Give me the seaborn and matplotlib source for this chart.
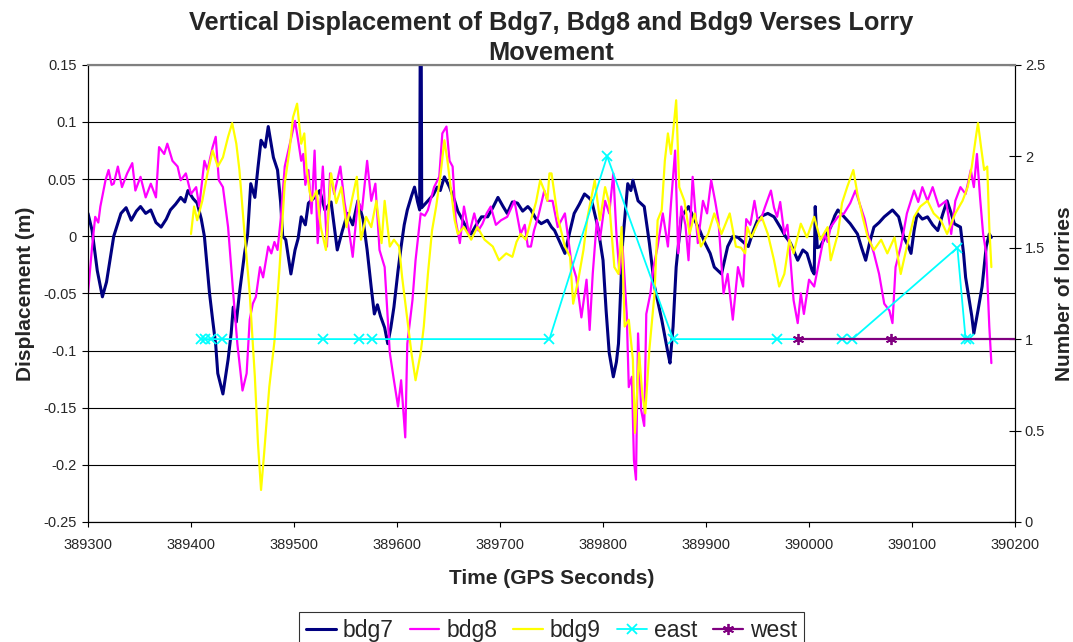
import matplotlib
matplotlib.use("Agg")
import matplotlib.pyplot as plt
import numpy as np
import pandas as pd
import seaborn as sns
from matplotlib.ticker import FuncFormatter, MultipleLocator

# bdg7 displacement (m) vs GPS time
bdg7_t = [389300, 389304, 389309, 389314, 389318, 389325, 389332, 389337, 389342, 389347,
          389351, 389356, 389361, 389366, 389371, 389376, 389380, 389385, 389390, 389394,
          389397, 389402, 389406, 389410, 389413, 389418, 389421, 389424, 389426, 389431,
          389436, 389439, 389441, 389444, 389447, 389452, 389455, 389458, 389462, 389465,
          389468, 389472, 389475, 389480, 389484, 389487, 389489, 389492, 389497, 389501,
          389504, 389507, 389511, 389514, 389520, 389525, 389530, 389536, 389542, 389547,
          389552, 389557, 389562, 389567, 389571, 389575, 389578, 389581, 389584, 389588,
          389591, 389594, 389597, 389601, 389604, 389607, 389610, 389614, 389617, 389620,
          389622, 389623, 389624, 389627, 389630, 389635, 389639, 389642, 389646, 389651,
          389656, 389659, 389662, 389667, 389672, 389677, 389682, 389688, 389693, 389698,
          389703, 389707, 389712, 389717, 389722, 389727, 389730, 389735, 389740, 389746,
          389750, 389753, 389758, 389763, 389768, 389772, 389777, 389782, 389786, 389789,
          389795, 389800, 389803, 389806, 389810, 389813, 389815, 389819, 389824, 389827,
          389829, 389832, 389834, 389840, 389845, 389850, 389857, 389863, 389865, 389868,
          389871, 389876, 389883, 389889, 389894, 389899, 389904, 389908, 389915, 389921,
          389926, 389931, 389936, 389941, 389946, 389950, 389955, 389960, 389966, 389972,
          389977, 389982, 389989, 389994, 389998, 390003, 390005, 390006, 390008, 390011,
          390016, 390021, 390025, 390028, 390034, 390040, 390047, 390051, 390055, 390059,
          390063, 390068, 390073, 390077, 390081, 390087, 390092, 390096, 390099, 390102,
          390105, 390110, 390115, 390120, 390125, 390130, 390134, 390138, 390141, 390147,
          390150, 390152, 390155, 390158, 390160, 390164, 390168, 390172, 390175, 390177]
bdg7_v = [0.020, 0.005, -0.030, -0.053, -0.040, 0.000, 0.020, 0.025, 0.014, 0.022,
          0.026, 0.020, 0.023, 0.012, 0.008, 0.015, 0.023, 0.028, 0.034, 0.030,
          0.040, 0.033, 0.029, 0.015, 0.000, -0.050, -0.073, -0.095, -0.120, -0.138,
          -0.108, -0.085, -0.062, -0.075, -0.050, -0.015, 0.002, 0.046, 0.034, 0.060,
          0.084, 0.078, 0.096, 0.069, 0.058, 0.030, 0.000, -0.003, -0.033, -0.012,
          -0.002, 0.017, 0.010, 0.029, 0.034, 0.040, 0.023, 0.030, -0.012, 0.005,
          0.020, 0.010, 0.031, 0.015, -0.012, -0.045, -0.068, -0.060, -0.070, -0.080,
          -0.094, -0.080, -0.062, -0.030, -0.009, 0.010, 0.023, 0.035, 0.043, 0.030,
          0.023, 0.300, 0.025, 0.028, 0.031, 0.036, 0.043, 0.040, 0.052, 0.043,
          0.031, 0.022, 0.017, 0.008, 0.002, 0.010, 0.017, 0.017, 0.025, 0.034,
          0.026, 0.020, 0.030, 0.029, 0.022, 0.026, 0.023, 0.015, 0.011, 0.014,
          0.008, 0.005, -0.005, -0.015, 0.005, 0.020, 0.028, 0.037, 0.034, 0.031,
          0.008, -0.021, -0.065, -0.102, -0.123, -0.110, -0.094, -0.006, 0.046, 0.040,
          0.049, 0.038, 0.031, 0.026, -0.006, -0.044, -0.073, -0.102, -0.111, -0.079,
          -0.027, 0.017, 0.026, 0.014, 0.005, -0.006, -0.015, -0.027, -0.033, -0.009,
          0.000, -0.001, -0.005, -0.009, 0.005, 0.014, 0.018, 0.020, 0.017, 0.008,
          0.000, -0.006, -0.021, -0.012, -0.015, -0.030, -0.033, 0.026, -0.010, -0.009,
          0.000, 0.008, 0.018, 0.023, 0.017, 0.011, 0.002, -0.010, -0.021, -0.005,
          0.008, 0.012, 0.017, 0.020, 0.023, 0.017, -0.001, -0.008, -0.015, 0.005,
          0.020, 0.015, 0.017, 0.010, 0.005, 0.020, 0.031, 0.020, 0.011, 0.008,
          -0.015, -0.036, -0.053, -0.070, -0.085, -0.065, -0.044, -0.009, 0.002, -0.001]

# bdg8 displacement (m)
bdg8_t = [389300, 389302, 389304, 389307, 389310, 389312, 389317, 389320, 389323, 389325,
          389329, 389333, 389338, 389343, 389346, 389351, 389356, 389361, 389366, 389369,
          389374, 389377, 389382, 389387, 389390, 389395, 389400, 389405, 389408, 389413,
          389416, 389421, 389424, 389427, 389431, 389436, 389441, 389445, 389450, 389454,
          389457, 389460, 389463, 389467, 389470, 389475, 389478, 389481, 389484, 389487,
          389491, 389496, 389501, 389504, 389507, 389509, 389511, 389514, 389517, 389520,
          389523, 389528, 389532, 389535, 389539, 389545, 389549, 389552, 389557, 389562,
          389566, 389571, 389575, 389579, 389583, 389588, 389593, 389597, 389601, 389604,
          389608, 389610, 389615, 389618, 389623, 389627, 389630, 389636, 389641, 389644,
          389648, 389651, 389654, 389657, 389661, 389665, 389670, 389675, 389679, 389683,
          389687, 389691, 389696, 389701, 389707, 389714, 389720, 389724, 389727, 389730,
          389733, 389737, 389743, 389746, 389751, 389756, 389763, 389769, 389774, 389779,
          389784, 389787, 389790, 389794, 389797, 389802, 389806, 389810, 389813, 389816,
          389819, 389823, 389825, 389828, 389830, 389832, 389834, 389837, 389840, 389842,
          389846, 389849, 389853, 389858, 389863, 389866, 389870, 389873, 389876, 389880,
          389883, 389887, 389892, 389897, 389901, 389905, 389909, 389912, 389917, 389921,
          389926, 389931, 389936, 389939, 389943, 389947, 389950, 389953, 389957, 389963,
          389966, 389969, 389972, 389976, 389979, 389982, 389985, 389989, 389992, 389995,
          390000, 390005, 390010, 390015, 390018, 390021, 390028, 390034, 390040, 390045,
          390050, 390054, 390057, 390063, 390068, 390073, 390078, 390081, 390084, 390089,
          390092, 390095, 390102, 390106, 390110, 390115, 390120, 390126, 390133, 390138,
          390142, 390147, 390152, 390157, 390160, 390163, 390166, 390169, 390172, 390175,
          390177]
bdg8_v = [-0.050, -0.030, -0.009, 0.017, 0.012, 0.026, 0.049, 0.058, 0.045, 0.046,
          0.061, 0.043, 0.055, 0.064, 0.040, 0.052, 0.034, 0.046, 0.034, 0.078,
          0.072, 0.081, 0.066, 0.061, 0.049, 0.055, 0.037, 0.043, 0.026, 0.066,
          0.058, 0.078, 0.087, 0.049, 0.043, 0.008, -0.050, -0.094, -0.135, -0.120,
          -0.073, -0.059, -0.053, -0.027, -0.036, -0.009, -0.015, -0.005, -0.012, 0.014,
          0.061, 0.081, 0.101, 0.084, 0.066, 0.072, 0.045, 0.058, 0.020, 0.075,
          -0.006, 0.061, -0.009, 0.055, 0.037, 0.061, 0.030, 0.014, -0.018, 0.031,
          0.023, 0.066, 0.031, 0.046, -0.012, -0.027, -0.102, -0.126, -0.149, -0.126,
          -0.176, -0.094, -0.056, -0.021, 0.020, 0.018, 0.023, 0.043, 0.052, 0.090,
          0.096, 0.066, 0.061, 0.014, -0.006, 0.026, 0.002, 0.020, 0.005, 0.011,
          0.020, 0.026, 0.010, 0.014, 0.017, 0.031, 0.002, 0.010, -0.009, -0.009,
          0.005, 0.017, 0.040, 0.031, 0.031, 0.008, 0.020, -0.021, -0.036, -0.071,
          -0.038, -0.082, -0.033, 0.014, -0.003, 0.031, 0.020, 0.055, 0.002, -0.033,
          -0.009, -0.068, -0.132, -0.123, -0.196, -0.213, -0.085, -0.152, -0.166, -0.068,
          -0.050, -0.027, -0.009, 0.020, -0.009, 0.029, 0.075, -0.015, 0.026, 0.010,
          -0.021, 0.052, -0.006, 0.031, 0.020, 0.049, 0.030, 0.014, -0.050, -0.033,
          -0.073, -0.027, -0.044, 0.015, 0.010, 0.031, 0.015, 0.014, 0.025, 0.040,
          0.025, 0.017, 0.030, 0.002, 0.010, -0.021, -0.056, -0.076, -0.050, -0.068,
          -0.038, -0.044, -0.021, 0.002, -0.005, 0.008, 0.017, 0.020, 0.029, 0.040,
          0.026, 0.015, 0.002, -0.015, -0.033, -0.059, -0.065, -0.076, -0.027, -0.009,
          0.005, 0.020, 0.040, 0.030, 0.043, 0.031, 0.043, 0.026, 0.031, 0.002,
          0.031, 0.043, 0.037, 0.058, 0.043, 0.072, 0.034, 0.002, -0.015, -0.079,
          -0.111]

# bdg9 displacement (m)
bdg9_t = [389400, 389403, 389406, 389411, 389416, 389421, 389426, 389431, 389436, 389440,
          389444, 389447, 389452, 389457, 389462, 389465, 389468, 389471, 389476, 389481,
          389486, 389491, 389496, 389499, 389503, 389507, 389510, 389512, 389515, 389517,
          389522, 389526, 389531, 389536, 389541, 389546, 389551, 389556, 389561, 389565,
          389570, 389575, 389580, 389585, 389588, 389593, 389597, 389602, 389605, 389610,
          389614, 389618, 389623, 389626, 389630, 389634, 389638, 389642, 389646, 389649,
          389652, 389656, 389659, 389665, 389672, 389678, 389685, 389693, 389699, 389706,
          389712, 389716, 389720, 389725, 389730, 389735, 389739, 389743, 389746, 389748,
          389750, 389756, 389763, 389768, 389771, 389776, 389781, 389785, 389792, 389797,
          389802, 389806, 389811, 389815, 389818, 389821, 389825, 389829, 389831, 389835,
          389838, 389841, 389845, 389850, 389853, 389857, 389860, 389863, 389866, 389870,
          389871, 389874, 389879, 389884, 389889, 389895, 389902, 389908, 389915, 389923,
          389929, 389934, 389938, 389940, 389944, 389950, 389954, 389960, 389966, 389971,
          389976, 389981, 389985, 389992, 389998, 390005, 390011, 390018, 390021, 390028,
          390032, 390037, 390043, 390047, 390052, 390057, 390063, 390070, 390076, 390083,
          390089, 390095, 390102, 390108, 390115, 390121, 390128, 390134, 390142, 390149,
          390154, 390158, 390162, 390164, 390167, 390170, 390173, 390175, 390177]
bdg9_v = [0.002, 0.026, 0.014, 0.031, 0.055, 0.075, 0.061, 0.069, 0.087, 0.099,
          0.081, 0.058, 0.002, -0.050, -0.123, -0.181, -0.222, -0.190, -0.132, -0.092,
          -0.027, 0.046, 0.078, 0.104, 0.116, 0.081, 0.090, 0.061, 0.040, 0.031,
          0.040, 0.008, -0.012, 0.055, 0.029, 0.043, 0.008, 0.031, 0.052, -0.003,
          0.017, 0.008, 0.031, -0.006, 0.031, -0.009, -0.003, -0.009, -0.036, -0.073,
          -0.102, -0.126, -0.102, -0.079, -0.033, 0.005, 0.026, 0.052, 0.084, 0.066,
          0.043, 0.014, 0.002, 0.008, -0.003, 0.008, -0.003, -0.009, -0.021, -0.015,
          -0.018, -0.005, 0.002, -0.003, 0.014, 0.030, 0.049, 0.040, 0.031, 0.055,
          0.055, 0.017, -0.009, -0.018, -0.059, -0.038, -0.012, 0.017, 0.049, 0.014,
          0.043, 0.029, -0.027, -0.033, 0.008, -0.079, -0.073, -0.108, -0.172, -0.102,
          -0.137, -0.155, -0.099, -0.050, 0.014, 0.023, 0.066, 0.090, 0.072, 0.110,
          0.119, 0.043, 0.031, 0.002, 0.020, -0.009, 0.002, 0.020, 0.002, 0.020,
          -0.009, -0.010, -0.015, 0.008, -0.001, 0.011, 0.017, 0.002, -0.021, -0.044,
          -0.033, -0.003, -0.015, 0.011, -0.001, 0.017, -0.003, 0.008, -0.021, 0.002,
          0.029, 0.043, 0.058, 0.037, 0.017, -0.001, -0.012, -0.003, -0.015, -0.001,
          -0.033, -0.009, 0.017, 0.026, 0.031, 0.020, 0.014, 0.002, 0.020, 0.031,
          0.043, 0.061, 0.087, 0.099, 0.078, 0.058, 0.061, 0.008, -0.027]

# number of lorries
east_t = [389410, 389414, 389419, 389430, 389528, 389563, 389576, 389748, 389804,
          389868, 389969, 390032, 390042, 390144, 390152, 390155]
east_n = [1, 1, 1, 1, 1, 1, 1, 1, 2, 1, 1, 1, 1, 1.5, 1, 1]
west_t = [389989, 390080, 390230]
west_n = [1, 1, 1]

sns.set_theme(style="white")
plt.rcParams["font.family"] = ["Liberation Sans", "DejaVu Sans"]

fig = plt.figure(figsize=(10.73, 6.42), dpi=100)
ax = fig.add_axes([0.082, 0.187, 0.864, 0.712])
ax2 = ax.twinx()

sns.lineplot(x=bdg7_t, y=bdg7_v, ax=ax, color="#000080", lw=2.2, estimator=None, label="bdg7")
sns.lineplot(x=bdg8_t, y=bdg8_v, ax=ax, color="#ff00ff", lw=1.6, estimator=None, label="bdg8")
sns.lineplot(x=bdg9_t, y=bdg9_v, ax=ax, color="#ffff00", lw=1.6, estimator=None, label="bdg9")
sns.lineplot(x=east_t, y=east_n, ax=ax2, color="#00ffff", lw=1.3, marker="x",
             markersize=7, markeredgewidth=1.3, markeredgecolor="#00ffff",
             estimator=None, label="east")
sns.lineplot(x=west_t, y=west_n, ax=ax2, color="#800080", lw=1.6, marker=(6, 2, 0),
             markersize=8, markeredgewidth=1.3, markeredgecolor="#800080",
             estimator=None, label="west")

ax.set_xlim(389300, 390200)
ax.set_ylim(-0.25, 0.15)
ax2.set_ylim(0, 2.5)
ax.xaxis.set_major_locator(MultipleLocator(100))
ax.yaxis.set_major_locator(MultipleLocator(0.05))
ax2.yaxis.set_major_locator(MultipleLocator(0.5))


def num_fmt(v, _):
    v = round(v, 3)
    return "0" if abs(v) < 1e-9 else f"{v:g}"


ax.yaxis.set_major_formatter(FuncFormatter(num_fmt))
ax2.yaxis.set_major_formatter(FuncFormatter(num_fmt))
ax.xaxis.set_major_formatter(FuncFormatter(lambda v, _: f"{int(round(v))}"))

ax.grid(axis="y", color="black", lw=0.8)
ax.set_axisbelow(True)
for a in (ax, ax2):
    a.spines["top"].set_color("#808080")
    a.spines["top"].set_linewidth(1.5)
    for s in ("left", "bottom", "right"):
        a.spines[s].set_color("black")
        a.spines[s].set_linewidth(0.8)

ax.tick_params(axis="y", direction="out", length=4.3, width=0.8, color="black",
               labelsize=10.5, pad=4, left=True)
ax.tick_params(axis="x", direction="out", length=3.5, width=0.8, color="black",
               labelsize=10.5, pad=8, bottom=True)
ax2.tick_params(axis="y", direction="inout", length=8, width=0.8, color="black",
                labelsize=10.5, pad=3, right=True)

ax.set_xlabel("Time (GPS Seconds)", fontsize=15, fontweight="bold", labelpad=12)
ax.set_ylabel("Displacement (m)", fontsize=15, fontweight="bold", labelpad=6)
ax2.set_ylabel("Number of lorries", fontsize=15, fontweight="bold", labelpad=7)

fig.text(0.5135, 0.983, "Vertical Displacement of Bdg7, Bdg8 and Bdg9 Verses Lorry\nMovement",
         ha="center", va="top", fontsize=18.3, fontweight="bold", linespacing=1.3)

h1, l1 = ax.get_legend_handles_labels()
h2, l2 = ax2.get_legend_handles_labels()
ax.get_legend().remove()
ax2.get_legend().remove()
leg = fig.legend(h1 + h2, l1 + l2, loc="upper center", bbox_to_anchor=(0.514, 0.047),
                 ncol=5, fontsize=16.5, frameon=True, fancybox=False, edgecolor="black",
                 handlelength=1.3, handletextpad=0.3, columnspacing=0.7,
                 borderpad=0.3, borderaxespad=0.0)
leg.get_frame().set_linewidth(0.8)

fig.savefig("out.png", dpi=100)
